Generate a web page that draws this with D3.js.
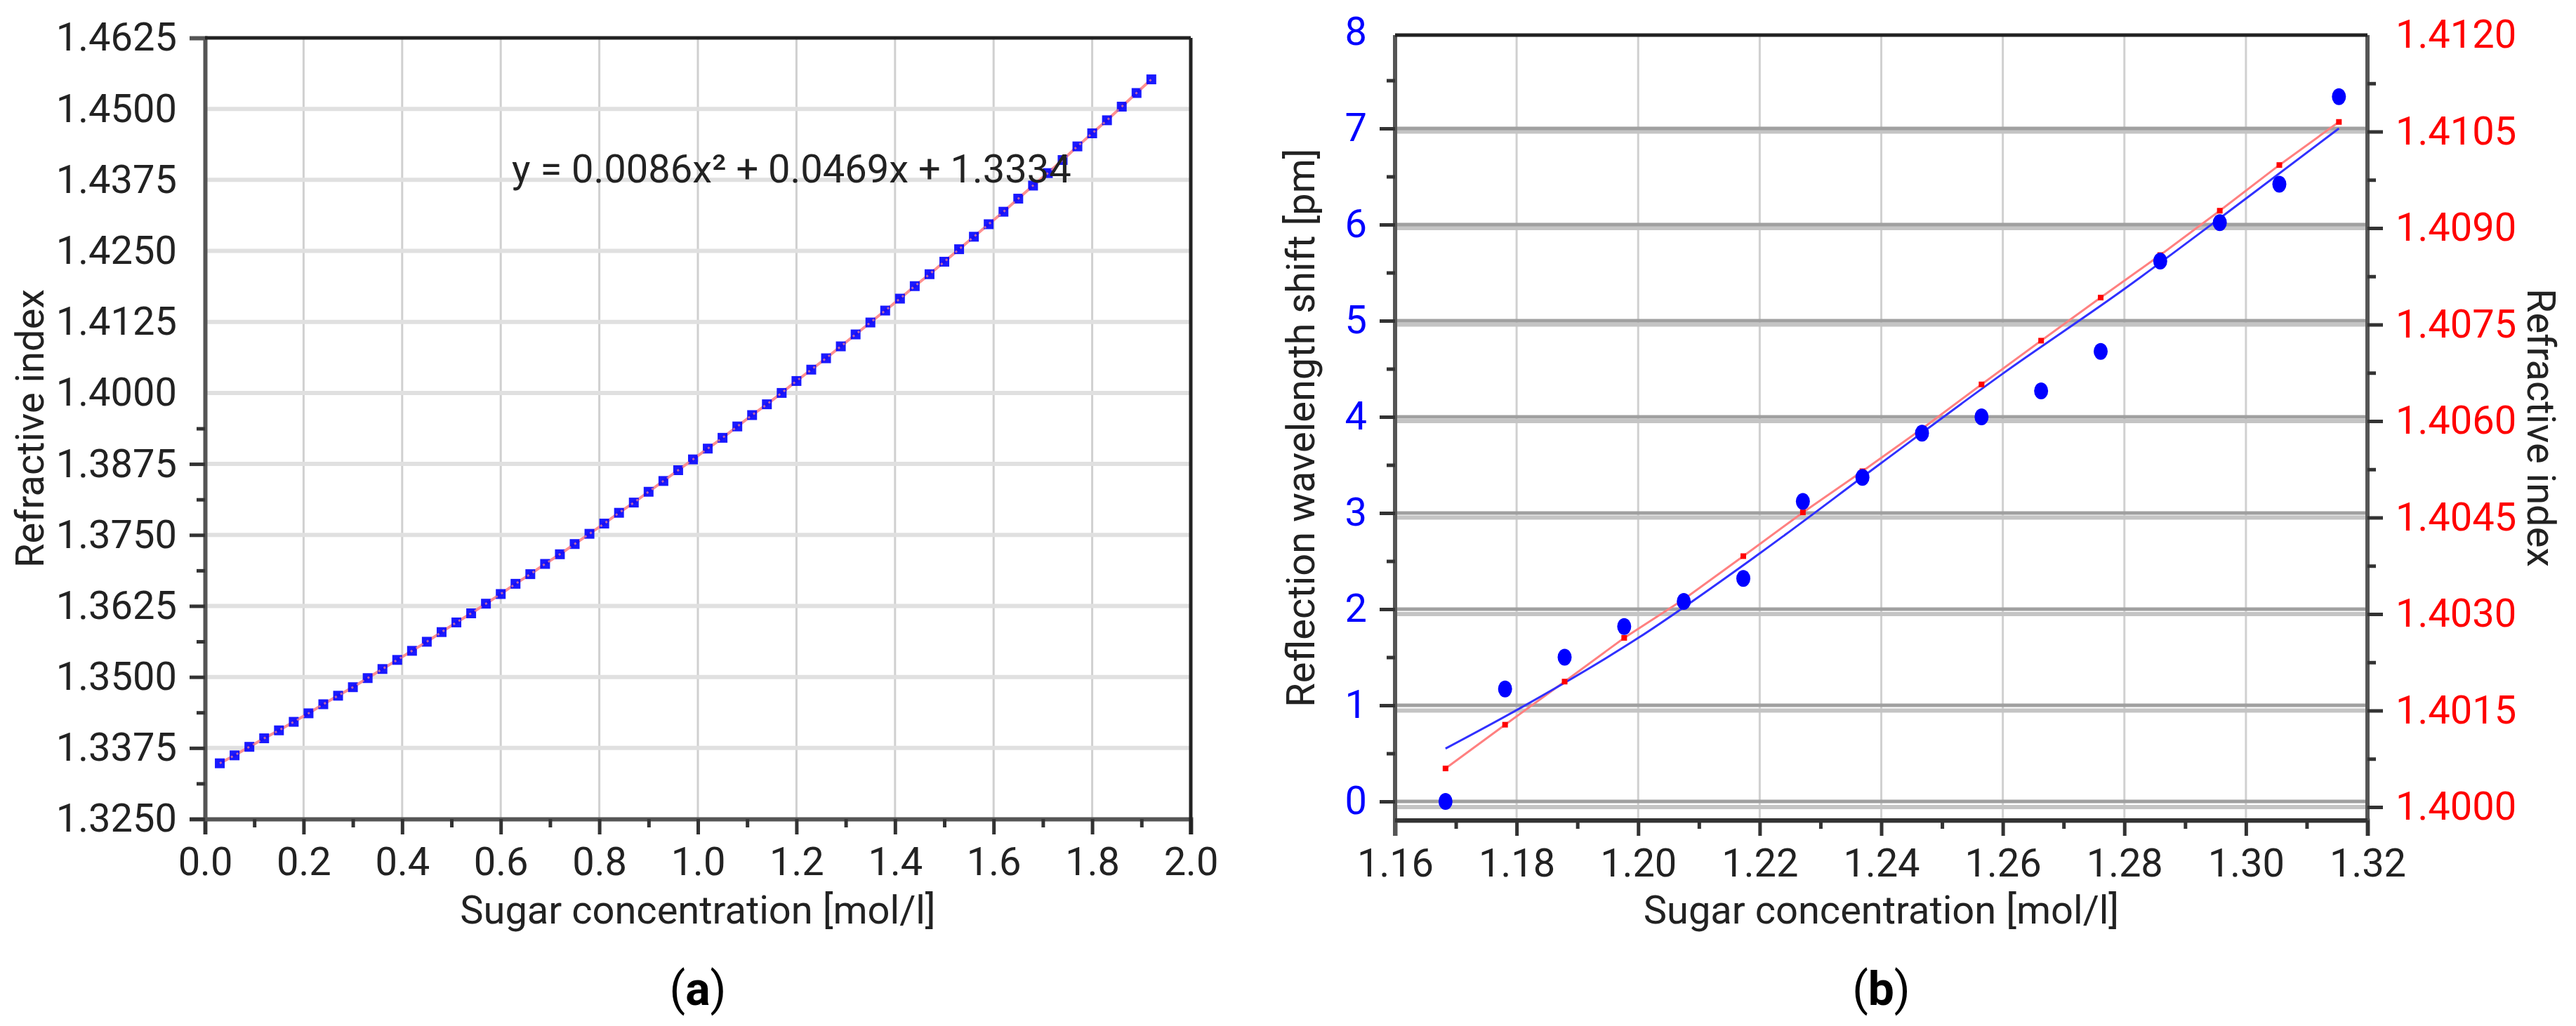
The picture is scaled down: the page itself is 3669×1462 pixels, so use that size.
<!DOCTYPE html>
<html>
  <head>
    <script src="https://d3js.org/d3.v7.min.js"></script>
    <meta charset="utf-8">
    <style>
      body { margin: 0; background: #fff; }
      svg { display: block; }
      text { font-family: "Liberation Sans Narrow", "Roboto", sans-serif; }
    </style>
  </head>
  <body>
    <script>
      // panel (a) data
      const concA = [0.03,0.06,0.09,0.12,0.15,0.18,0.21,0.24,0.27,0.30,0.33,0.36,0.39,0.42,0.45,0.48,0.51,0.54,0.57,0.60,
        0.63,0.66,0.69,0.72,0.75,0.78,0.81,0.84,0.87,0.90,0.93,0.96,0.99,1.02,1.05,1.08,1.11,1.14,1.17,1.20,
        1.23,1.26,1.29,1.32,1.35,1.38,1.41,1.44,1.47,1.50,1.53,1.56,1.59,1.62,1.65,1.68,1.71,1.74,1.77,1.80,
        1.83,1.86,1.89,1.92];
      const riA = [1.3348,1.3362,1.3377,1.3392,1.3406,1.3421,1.3436,1.3452,1.3467,1.3482,1.3498,1.3514,1.3530,1.3546,1.3562,1.3579,1.3596,1.3612,1.3629,1.3646,
        1.3664,1.3681,1.3699,1.3716,1.3734,1.3752,1.3770,1.3789,1.3807,1.3826,1.3845,1.3864,1.3883,1.3902,1.3921,1.3941,1.3961,1.3980,1.4000,1.4021,
        1.4041,1.4061,1.4082,1.4103,1.4124,1.4145,1.4166,1.4188,1.4209,1.4231,1.4253,1.4275,1.4297,1.4319,1.4342,1.4365,1.4387,1.4410,1.4434,1.4457,
        1.4480,1.4504,1.4528,1.4552];
      const yTicksA = [1.3250,1.3375,1.3500,1.3625,1.3750,1.3875,1.4000,1.4125,1.4250,1.4375,1.4500,1.4625];
      const xTicksA = [0,0.2,0.4,0.6,0.8,1.0,1.2,1.4,1.6,1.8,2.0];

      // panel (b) data
      const concB = [1.1683,1.1781,1.1879,1.1977,1.2075,1.2173,1.2271,1.2369,1.2467,1.2565,1.2663,1.2761,1.2859,1.2957,1.3055,1.3153];
      const shiftB = [0,1.17,1.50,1.82,2.08,2.32,3.12,3.37,3.83,4.00,4.27,4.68,5.62,6.02,6.42,7.33];
      const riB = [1.40060,1.40128,1.40195,1.40263,1.40323,1.40390,1.40458,1.40522,1.40588,1.40657,1.40725,1.40792,1.40858,1.40927,1.40998,1.41065];
      const fitX = [1.1683,1.18,1.20,1.22,1.24,1.26,1.28,1.30,1.3153];
      const fitShift = [0.55,0.95,1.70,2.58,3.52,4.45,5.33,6.27,7.00];
      const xTicksB = [1.16,1.18,1.20,1.22,1.24,1.26,1.28,1.30,1.32];
      const yTicksB = [0,1,2,3,4,5,6,7,8];
      const yTicksBR = [1.4000,1.4015,1.4030,1.4045,1.4060,1.4075,1.4090,1.4105,1.4120];

      const W = 3669, H = 1462, FS = 56;
      const FONT = '"Liberation Sans Narrow", Roboto, sans-serif';
      const svg = d3.select("body").append("svg").attr("width", W).attr("height", H);

      function topLine(g, x, y, w) {
        g.append("line").attr("x1", x).attr("x2", x + w).attr("y1", y).attr("y2", y).attr("stroke", "#222").attr("stroke-width", 5);
      }

      // ---------- panel (a) ----------
      const ax = d3.scaleLinear().domain([0, 2]).range([292, 1696]);
      const ay = d3.scaleLinear().domain([1.325, 1.4625]).range([1167, 54]);
      const ga = svg.append("g");

      ga.selectAll(".vg").data(xTicksA.slice(1, -1)).enter().append("line")
        .attr("x1", ax).attr("x2", ax).attr("y1", ay(1.4625)).attr("y2", ay(1.325))
        .attr("stroke", "#d0d0d0").attr("stroke-width", 3);
      ga.selectAll(".hg").data(yTicksA.slice(1, -1)).enter().append("line")
        .attr("x1", ax(0)).attr("x2", ax(2)).attr("y1", ay).attr("y2", ay)
        .attr("stroke", "#e0e0e0").attr("stroke-width", 6);

      ga.append("g").attr("transform", `translate(0,${ay(1.325)})`)
        .call(d3.axisBottom(ax).tickValues(d3.range(0, 2.001, 0.1)).tickSize(22).tickFormat(""))
        .call(g => g.selectAll(".tick line").filter(d => Math.round(d * 10) % 2 === 1).attr("y2", 12));
      ga.append("g").attr("transform", `translate(0,${ay(1.325)})`)
        .call(d3.axisBottom(ax).tickValues(xTicksA).tickSize(0).tickPadding(40).tickFormat(d3.format(".1f")))
        .call(g => g.select(".domain").remove());
      ga.append("g").attr("transform", `translate(${ax(0)},0)`)
        .call(d3.axisLeft(ay).tickValues(d3.range(0, 12).map(i => 1.325 + i * 0.00625)).tickSize(22).tickFormat(""))
        .call(g => g.selectAll(".tick line").filter((d, i) => i % 2 === 1).attr("x2", -12));
      ga.append("g").attr("transform", `translate(${ax(0)},0)`)
        .call(d3.axisLeft(ay).tickValues(yTicksA).tickSize(0).tickPadding(40).tickFormat(d3.format(".4f")))
        .call(g => g.select(".domain").remove());
      ga.selectAll(".domain").attr("stroke", "#555").attr("stroke-width", 6);
      ga.selectAll(".tick line").attr("stroke", "#333").attr("stroke-width", 5);
      ga.selectAll(".tick text").attr("font-size", FS).attr("fill", "#222").attr("font-family", FONT);
      topLine(ga, ax(0), ay(1.4625), ax(2) - ax(0));
      ga.append("line").attr("x1", ax(2)).attr("x2", ax(2)).attr("y1", ay(1.4625)).attr("y2", ay(1.325) + 22)
        .attr("stroke", "#222").attr("stroke-width", 5);

      const ptsA = concA.map((c, i) => [c, riA[i]]);
      ga.append("path").datum(ptsA).attr("fill", "none").attr("stroke", "#ff9090").attr("stroke-width", 4)
        .attr("d", d3.line().x(d => ax(d[0])).y(d => ay(d[1])));
      ga.selectAll(".pa").data(ptsA).enter().append("rect")
        .attr("x", d => ax(d[0]) - 7).attr("y", d => ay(d[1]) - 7).attr("width", 14).attr("height", 14)
        .attr("fill", "#0000ff").attr("opacity", 0.9);
      ga.append("path").datum(ptsA).attr("fill", "none").attr("stroke", "#ff9090").attr("stroke-width", 3)
        .attr("stroke-dasharray", "3 6").attr("opacity", 0.7)
        .attr("d", d3.line().x(d => ax(d[0])).y(d => ay(d[1])));

      ga.append("text").attr("x", ax(1.19)).attr("y", ay(1.4395)).attr("dy", "0.35em")
        .attr("text-anchor", "middle").attr("font-size", FS).attr("fill", "#222")
        .text("y = 0.0086x² + 0.0469x + 1.3334");
      ga.append("text").attr("x", (ax(0) + ax(2)) / 2).attr("y", 1316).attr("text-anchor", "middle")
        .attr("font-size", FS).attr("fill", "#222").text("Sugar concentration [mol/l]");
      ga.append("text").attr("transform", `translate(62,${(ay(1.325) + ay(1.4625)) / 2}) rotate(-90)`)
        .attr("text-anchor", "middle").attr("font-size", FS).attr("fill", "#222").text("Refractive index");
      ga.append("text").attr("x", (ax(0) + ax(2)) / 2).attr("y", 1432).attr("text-anchor", "middle")
        .attr("font-family", '"Liberation Serif", serif').attr("font-size", 66).attr("fill", "#000")
        .html('(<tspan font-weight="bold">a</tspan>)');

      // ---------- panel (b) ----------
      const bx = d3.scaleLinear().domain([1.16, 1.32]).range([1987, 3372]);
      const by = d3.scaleLinear().domain([0, 8]).range([1142, 46]);
      const byR = d3.scaleLinear().domain([1.4, 1.412]).range([1150, 50]);
      const bTop = 50, bBot = 1169;
      const gb = svg.append("g");

      gb.selectAll(".vg").data(xTicksB.slice(1, -1)).enter().append("line")
        .attr("x1", bx).attr("x2", bx).attr("y1", bTop).attr("y2", bBot)
        .attr("stroke", "#d0d0d0").attr("stroke-width", 3);
      gb.selectAll(".hgr").data(yTicksBR.slice(0, -1)).enter().append("line")
        .attr("x1", bx(1.16)).attr("x2", bx(1.32)).attr("y1", byR).attr("y2", byR)
        .attr("stroke", "#c4c4c4").attr("stroke-width", 6);
      gb.selectAll(".hgl").data(yTicksB.slice(0, -1)).enter().append("line")
        .attr("x1", bx(1.16)).attr("x2", bx(1.32)).attr("y1", by).attr("y2", by)
        .attr("stroke", "#a0a0a0").attr("stroke-width", 5);

      gb.append("g").attr("transform", `translate(0,${bBot})`)
        .call(d3.axisBottom(bx).tickValues(d3.range(0, 17).map(i => 1.16 + i * 0.01)).tickSize(22).tickFormat(""))
        .call(g => g.selectAll(".tick line").filter((d, i) => i % 2 === 1).attr("y2", 12));
      gb.append("g").attr("transform", `translate(0,${bBot})`)
        .call(d3.axisBottom(bx).tickValues(xTicksB).tickSize(0).tickPadding(40).tickFormat(d3.format(".2f")))
        .call(g => g.select(".domain").remove());
      gb.append("g").attr("transform", `translate(${bx(1.16)},0)`)
        .call(d3.axisLeft(by).tickValues(d3.range(0, 16).map(i => i * 0.5)).tickSize(22).tickFormat(""))
        .call(g => g.selectAll(".tick line").filter((d, i) => i % 2 === 1).attr("x2", -12))
        .call(g => g.select(".domain").attr("d", `M0,${bTop}V${bBot + 22}`));
      gb.append("g").attr("transform", `translate(${bx(1.16)},0)`)
        .call(d3.axisLeft(by).tickValues(yTicksB).tickSize(0).tickPadding(40).tickFormat(d3.format("d")))
        .call(g => g.select(".domain").remove())
        .call(g => g.selectAll("text").attr("class", "blue"));
      gb.append("g").attr("transform", `translate(${bx(1.32)},0)`)
        .call(d3.axisRight(byR).tickValues(d3.range(0, 16).map(i => 1.4 + i * 0.00075)).tickSize(22).tickFormat(""))
        .call(g => g.selectAll(".tick line").filter((d, i) => i % 2 === 1).attr("x2", 12))
        .call(g => g.select(".domain").attr("d", `M0,${bTop}V${bBot}`));
      gb.append("g").attr("transform", `translate(${bx(1.32)},0)`)
        .call(d3.axisRight(byR).tickValues(yTicksBR).tickSize(0).tickPadding(40).tickFormat(d3.format(".4f")))
        .call(g => g.select(".domain").remove())
        .call(g => g.selectAll("text").attr("class", "red"));
      gb.selectAll(".domain").attr("stroke", "#555").attr("stroke-width", 6);
      gb.selectAll(".tick line").attr("stroke", "#333").attr("stroke-width", 5);
      gb.selectAll(".tick text").attr("font-size", FS).attr("font-family", FONT).attr("fill", "#222");
      gb.selectAll("text.blue").attr("fill", "#0000ff");
      gb.selectAll("text.red").attr("fill", "#ff0000");
      topLine(gb, bx(1.16), bTop, bx(1.32) - bx(1.16));
      gb.append("line").attr("x1", bx(1.16)).attr("x2", bx(1.32)).attr("y1", bBot).attr("y2", bBot)
        .attr("stroke", "#333").attr("stroke-width", 6);

      // fits and points
      gb.append("path").datum(concB.map((c, i) => [c, riB[i]])).attr("fill", "none")
        .attr("stroke", "#ff8080").attr("stroke-width", 3)
        .attr("d", d3.line().x(d => bx(d[0])).y(d => byR(d[1])));
      gb.append("path").datum(fitX.map((c, i) => [c, fitShift[i]])).attr("fill", "none")
        .attr("stroke", "#3030ff").attr("stroke-width", 3)
        .attr("d", d3.line().curve(d3.curveMonotoneX).x(d => bx(d[0])).y(d => by(d[1])));
      gb.selectAll(".pr").data(concB.map((c, i) => [c, riB[i]])).enter().append("rect")
        .attr("x", d => bx(d[0]) - 4).attr("y", d => byR(d[1]) - 4).attr("width", 8).attr("height", 8)
        .attr("fill", "#ff0000");
      gb.selectAll(".pb").data(concB.map((c, i) => [c, shiftB[i]])).enter().append("ellipse")
        .attr("cx", d => bx(d[0])).attr("cy", d => by(d[1])).attr("rx", 10).attr("ry", 12)
        .attr("fill", "#0000ff");

      gb.append("text").attr("x", (bx(1.16) + bx(1.32)) / 2).attr("y", 1316).attr("text-anchor", "middle")
        .attr("font-size", FS).attr("fill", "#222").text("Sugar concentration [mol/l]");
      gb.append("text").attr("transform", `translate(1872,${(bTop + bBot) / 2}) rotate(-90)`)
        .attr("text-anchor", "middle").attr("font-size", FS).attr("fill", "#222").text("Reflection wavelength shift [pm]");
      gb.append("text").attr("transform", `translate(3600,${(bTop + bBot) / 2}) rotate(90)`)
        .attr("text-anchor", "middle").attr("font-size", FS).attr("fill", "#222").text("Refractive index");
      gb.append("text").attr("x", (bx(1.16) + bx(1.32)) / 2).attr("y", 1432).attr("text-anchor", "middle")
        .attr("font-family", '"Liberation Serif", serif').attr("font-size", 66).attr("fill", "#000")
        .html('(<tspan font-weight="bold">b</tspan>)');
    </script>
  </body>
</html>
